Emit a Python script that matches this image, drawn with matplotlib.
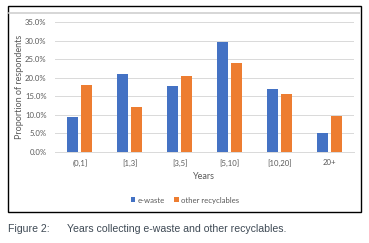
import numpy as np
import matplotlib
matplotlib.use("Agg")
import matplotlib.pyplot as plt
from matplotlib.lines import Line2D
from matplotlib.patches import Rectangle
from matplotlib.ticker import PercentFormatter

# ---------------------------------- data ----------------------------------
categories = ["(0,1]", "[1,3]", "[3,5]", "[5,10]", "[10,20]", "20+"]
ewaste = [9.5, 21.0, 17.8, 29.5, 16.9, 5.2]
other = [18.0, 12.1, 20.5, 24.0, 15.7, 9.8]
series_names = ["e-waste", "other recyclables"]

blue = "#4472C4"
orange = "#ED7D31"
grey_txt = "#595959"

plt.rcParams['font.family'] = ['Lato', 'DejaVu Sans']

W, H = 369, 243
fig = plt.figure(figsize=(W / 100, H / 100), dpi=100)

# outer frame + thin grey strip at top
fig.patches.append(Rectangle((8 / W, 1 - 212 / H), 353 / W, 206 / H,
                             transform=fig.transFigure, fill=False,
                             edgecolor="black", linewidth=1.0))
fig.lines.append(Line2D([9 / W, 360 / W], [1 - 13 / H, 1 - 13 / H],
                        transform=fig.transFigure, color="#D0D0D0", linewidth=1.2))

ax = fig.add_axes([55 / W, 1 - 152 / H, 299 / W, 130 / H])

x = np.arange(len(categories))
bw = 0.22
gap = 0.03
ax.bar(x - bw / 2 - gap, ewaste, bw, color=blue, label=series_names[0], zorder=3)
ax.bar(x + bw / 2 + gap, other, bw, color=orange, label=series_names[1], zorder=3)

ax.set_xlim(-0.5, len(categories) - 0.5)
ax.set_ylim(0, 35)
ax.set_yticks(np.arange(0, 36, 5))
ax.yaxis.set_major_formatter(PercentFormatter(decimals=1))
ax.grid(axis="y", color="#D9D9D9", linewidth=0.7, zorder=0)
for s in ["top", "right", "left"]:
    ax.spines[s].set_visible(False)
ax.spines["bottom"].set_color("#D9D9D9")
ax.spines["bottom"].set_linewidth(0.7)
ax.tick_params(length=0, labelsize=5.6, colors=grey_txt)
ax.tick_params(axis="y", pad=6)
ax.set_xticks(x)
ax.set_xticklabels(categories)
ax.tick_params(axis="x", pad=5)

fig.text(20 / W, 1 - 87 / H, "Proportion of respondents", rotation=90,
         ha="center", va="center", fontsize=6.5, color=grey_txt)
fig.text(204 / W, 1 - 176 / H, "Years", ha="center", va="center",
         fontsize=6.5, color=grey_txt)

leg = fig.legend(loc="center", bbox_to_anchor=(185 / W, 1 - 200 / H), ncol=2,
                 frameon=False, fontsize=5.6, handlelength=0.6, handleheight=0.6,
                 handletextpad=0.3, columnspacing=1.2, labelcolor=grey_txt)

cap_font = ['Liberation Sans Narrow', 'Liberation Sans', 'DejaVu Sans']
fig.text(8 / W, 1 - 229 / H, "Figure 2:", ha="left", va="center",
         fontsize=7.6, color="#3F4A55", family=cap_font)
fig.text(67 / W, 1 - 229 / H, "Years collecting e-waste and other recyclables.",
         ha="left", va="center", fontsize=7.6, color="#3F4A55", family=cap_font)

fig.savefig("out.png", dpi=100)
